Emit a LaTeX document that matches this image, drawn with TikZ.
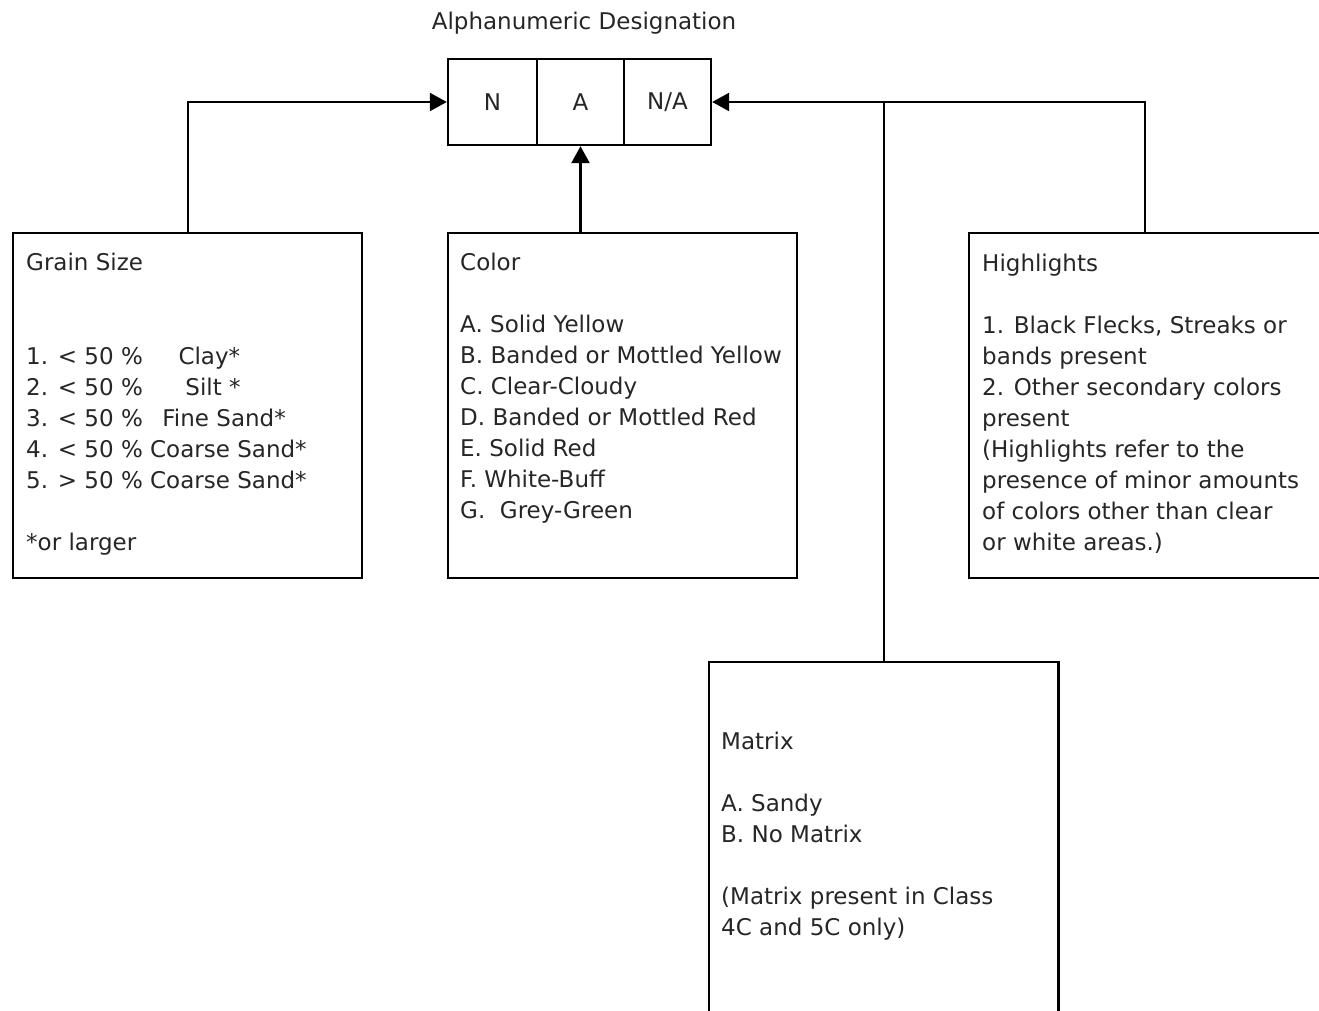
\documentclass[tikz,border=0pt]{standalone}
\usepackage{fontspec}
\setmainfont{DejaVu Sans}
\usetikzlibrary{arrows.meta}
\begin{document}
\begin{tikzpicture}[x=1pt,y=-1pt,
  every node/.style={font=\fontsize{23}{31}\selectfont, text=black!85},
  cell/.style={draw, line width=2.4pt, minimum height=86pt, inner sep=0pt},
  panel/.style={draw, line width=2.4pt, anchor=north west, minimum width=349pt, minimum height=345pt, inner sep=0pt},
  txt/.style={anchor=north west, align=left, inner sep=0pt},
  conn/.style={line width=2.4pt},
  arr/.style={conn, -{Triangle[length=17pt,width=18pt]}}]
\useasboundingbox (0,0) rectangle (1319,1011);
\node (title) at (584,23) {Alphanumeric Designation};
\node[cell, minimum width=89pt] (n) at (492.5,102) {N};
\node[cell, minimum width=87pt] (a) at (580.5,102) {A};
\node[cell, minimum width=87pt] (na) at (667.5,102) {N/A};

\node[panel] (grain) at (12,232) {};
\node[panel] (color) at (447,232) {};
\node[panel, minimum width=351pt] (hl) at (968,232) {};
\node[anchor=north west, minimum width=349pt, minimum height=360pt, inner sep=0pt] (mx) at (709,662) {};
\draw[conn] (mx.south west) -- (mx.north west) -- (mx.north east) -- (mx.south east);

\node[txt] (graintxt) at (26,253) {Grain Size\\[63pt]
1. < 50 \%\hspace{1.55em}Clay*\\
2. < 50 \%\hspace{1.85em}Silt *\\
3. < 50 \%\hspace{0.85em}Fine Sand*\\
4. < 50 \% Coarse Sand*\\
5. > 50 \% Coarse Sand*\\[31pt]
*or larger};
\node[txt] (colortxt) at (460,253) {Color\\[31pt]
A. Solid Yellow\\
B. Banded or Mottled Yellow\\
C. Clear-Cloudy\\
D. Banded or Mottled Red\\
E. Solid Red\\
F. White-Buff\\
G.\ \ Grey-Green};
\node[txt] (hltxt) at (982,254) {Highlights\\[31pt]
1. Black Flecks, Streaks or\\
bands present\\
2. Other secondary colors\\
present\\
(Highlights refer to the\\
presence of minor amounts\\
of colors other than clear\\
or white areas.)};
\node[txt] (mxtxt) at (721,732) {Matrix\\[31pt]
A. Sandy\\
B. No Matrix\\[31pt]
(Matrix present in Class\\
4C and 5C only)};

\draw[arr] (grain.north) |- (n.west);
\draw[arr] (a.south |- color.north) -- (a.south);
\draw[arr] (hl.north) |- (na.east);
\draw[conn] (mx.north) -- (mx.north |- na.east);
\end{tikzpicture}
\end{document}
